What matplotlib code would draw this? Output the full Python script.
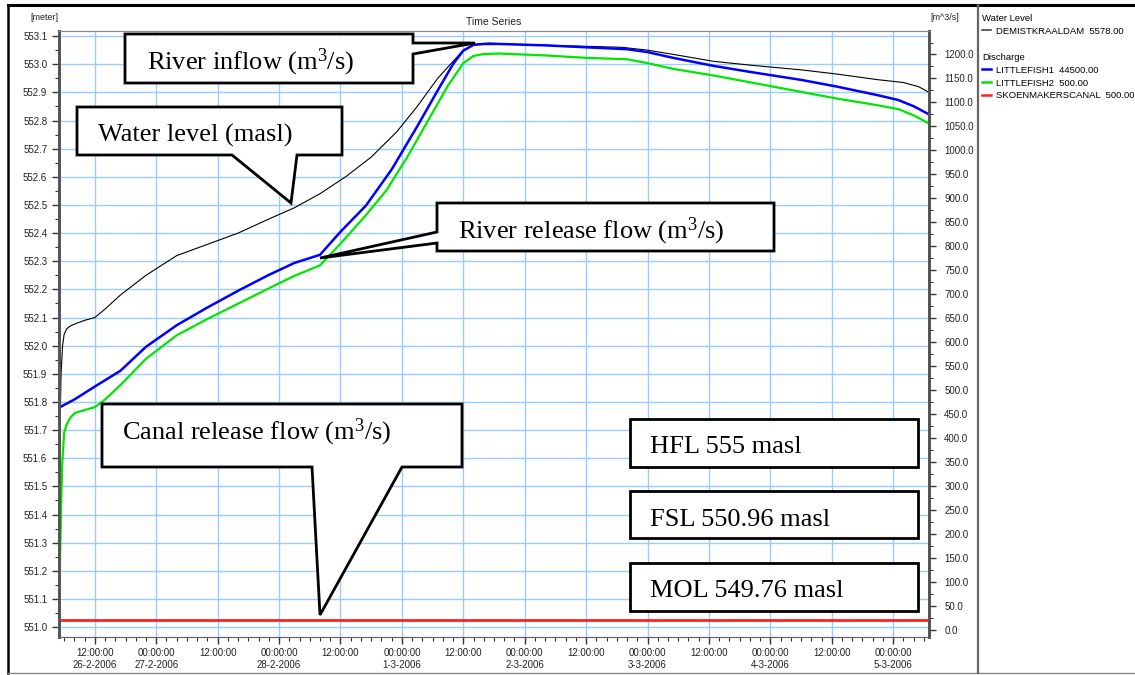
import numpy as np
import pandas as pd
import matplotlib
matplotlib.use("Agg")
import matplotlib.pyplot as plt
import matplotlib.dates as mdates
from matplotlib.patches import Polygon
from matplotlib.lines import Line2D
from matplotlib.ticker import MultipleLocator, FuncFormatter, FormatStrFormatter

plt.rcParams['font.family'] = ['Liberation Sans', 'DejaVu Sans']
plt.rcParams['mathtext.fontset'] = 'custom'
plt.rcParams['mathtext.rm'] = 'Liberation Serif'
plt.rcParams['mathtext.it'] = 'Liberation Serif:italic'

W, H = 1135, 675
start = pd.Timestamp("2006-02-26 05:00")
end = pd.Timestamp("2006-03-05 07:00")

# water level DEMISTKRAALDAM [meter], hours from start
wl_hours = [0, 0.2, 0.4, 0.7, 1.0, 1.5, 2.2, 3.5, 5, 7, 9, 12, 17, 23, 29, 35, 41, 46, 51, 56,
            61, 66, 70, 74, 77, 79, 81, 84, 90, 100, 110, 115, 120, 128, 136, 145, 152, 160,
            165, 168, 170]
wl_level = [551.45, 551.70, 551.90, 552.00, 552.04, 552.06, 552.07, 552.08, 552.09, 552.10,
            552.13, 552.18, 552.25, 552.32, 552.36, 552.40, 552.45, 552.49, 552.54, 552.60,
            552.67, 552.76, 552.85, 552.95, 553.01, 553.05, 553.07, 553.075, 553.07, 553.065,
            553.06, 553.05, 553.035, 553.01, 552.995, 552.98, 552.965, 552.945, 552.935,
            552.92, 552.90]

# discharge LITTLEFISH1 [m^3/s]
lf1_hours = [0, 3, 7, 12, 17, 23, 29, 35, 41, 46, 51, 55, 60, 65, 70, 74, 77, 79, 81, 83, 86,
             95, 103, 111, 115, 120, 128, 136, 145, 152, 160, 164, 167, 170]
lf1_q = [463, 480, 507, 540, 590, 635, 672, 707, 740, 765, 782, 830, 885, 960, 1050, 1125,
         1180, 1208, 1220, 1222, 1222, 1219, 1215, 1211, 1205, 1193, 1176, 1162, 1147, 1133,
         1115, 1105, 1092, 1075]

# discharge LITTLEFISH2 [m^3/s]
lf2_hours = [0, 0.3, 0.6, 1.0, 1.5, 2.2, 3.1, 5, 7, 9, 12, 17, 23, 29, 35, 41, 46, 51, 55, 60,
             64, 68, 72, 76, 79, 81, 83, 86, 95, 103, 111, 115, 120, 128, 136, 145, 152, 160,
             164, 167, 170]
lf2_q = [25, 200, 340, 410, 428, 442, 452, 458, 464, 480, 510, 565, 614, 648, 680, 712, 738,
         760, 805, 865, 917, 985, 1060, 1135, 1182, 1197, 1201, 1202, 1198, 1193, 1190, 1182,
         1170, 1156, 1140, 1122, 1108, 1094, 1086, 1073, 1056]

# discharge SKOENMAKERSCANAL [m^3/s]
canal_hours = [0, 170]
canal_q = [20, 20]

def to_time(hours):
    return start + pd.to_timedelta(hours, unit="h")

def px(x, y):
    return (x / W, 1 - y / H)

fig = plt.figure(figsize=(W / 100, H / 100), dpi=100)
ax = fig.add_axes([59 / W, 1 - 637 / H, 870 / W, 606 / H])
ax2 = ax.twinx()

grid_c = "#99ccff"
ax.grid(True, which="major", color=grid_c, lw=1.0)
ax.set_axisbelow(True)

l_wl, = ax.plot(to_time(wl_hours), wl_level, color="black", lw=0.8)
l_lf1, = ax2.plot(to_time(lf1_hours), lf1_q, color="#0000ff", lw=1.8)
l_lf2, = ax2.plot(to_time(lf2_hours), lf2_q, color="#00e600", lw=1.6)
l_can, = ax2.plot(to_time(canal_hours), canal_q, color="#ff2020", lw=2.0)

ax.set_xlim(start, end)
ax.set_ylim(550.965, 553.118)
ax2.set_ylim(-15.6, 1249)

ax.yaxis.set_major_locator(MultipleLocator(0.1))
ax.yaxis.set_minor_locator(MultipleLocator(0.05))
ax.yaxis.set_major_formatter(FormatStrFormatter("%.1f"))
ax2.yaxis.set_major_locator(MultipleLocator(50))
ax2.yaxis.set_minor_locator(MultipleLocator(25))
ax2.yaxis.set_major_formatter(FormatStrFormatter("%.1f"))

ax.xaxis.set_major_locator(mdates.HourLocator(byhour=[0, 12]))
ax.xaxis.set_minor_locator(mdates.HourLocator(byhour=range(0, 24, 2)))

def fmt_time(x, pos):
    d = mdates.num2date(x)
    date = f"{d.day}-{d.month}-{d.year}"
    if d.hour == 0 or pos == 0:
        return d.strftime("%H:%M:%S") + "\n" + date
    return d.strftime("%H:%M:%S")

ax.xaxis.set_major_formatter(FuncFormatter(fmt_time))

tick_c = "#333333"
for a in (ax, ax2):
    a.tick_params(which="major", length=5, width=1, colors=tick_c, labelsize=7, labelcolor="#222222")
    a.tick_params(which="minor", length=3, width=0.8, colors=tick_c)
ax.tick_params(axis="x", pad=3)
ax2.tick_params(axis="y", pad=6)

for a in (ax, ax2):
    a.spines["left"].set_color("#555555")
    a.spines["left"].set_linewidth(2)
    a.spines["right"].set_color("#555555")
    a.spines["right"].set_linewidth(2)
    a.spines["top"].set_color("#888888")
    a.spines["bottom"].set_color("#666666")

fig.text(494 / W, 1 - 22 / H, "Time Series", ha="center", va="center", fontsize=7.5, color="#222222")
fig.text(44 / W, 1 - 18 / H, "[meter]", ha="center", va="center", fontsize=6.5, color="#222222")
fig.text(945 / W, 1 - 18 / H, "[m^3/s]", ha="center", va="center", fontsize=6.5, color="#222222")

# outer frame and legend divider
fig.add_artist(Line2D([8 / W, 8 / W], [1 - 5 / H, 1 - 673 / H], color="black", lw=1.8, transform=fig.transFigure))
fig.add_artist(Line2D([8 / W, 1], [1 - 5 / H, 1 - 5 / H], color="black", lw=2.2, transform=fig.transFigure))
fig.add_artist(Line2D([8 / W, 1], [1 - 673 / H, 1 - 673 / H], color="#888888", lw=1, transform=fig.transFigure))
fig.add_artist(Line2D([978 / W, 978 / W], [1 - 5 / H, 1 - 673 / H], color="#666666", lw=1.6, transform=fig.transFigure))

# legend
leg_kw = dict(loc="upper left", frameon=False, fontsize=6.8, title_fontsize=6.8,
              handlelength=1.0, handletextpad=0.5, borderpad=0, borderaxespad=0,
              labelspacing=0.4, alignment="left")
fig.legend([Line2D([], [], color="#444444", lw=1.2)], ["DEMISTKRAALDAM  5578.00"],
           title="Water Level", bbox_to_anchor=px(982, 14), **leg_kw)
fig.legend([Line2D([], [], color="#0000ff", lw=1.8), Line2D([], [], color="#00e600", lw=1.8),
            Line2D([], [], color="#ff2020", lw=1.8)],
           ["LITTLEFISH1  44500.00", "LITTLEFISH2  500.00", "SKOENMAKERSCANAL  500.00"],
           title="Discharge", bbox_to_anchor=px(982, 53), **leg_kw)

# callout boxes
unit = "(m$^{3}$/s)"
callouts = [
    ([(125, 34), (413, 34), (413, 43), (475, 43), (413, 54), (413, 83), (125, 83)],
     "River inflow " + unit, (147, 69)),
    ([(77, 107), (342, 107), (342, 155), (297, 155), (291, 203), (232, 155), (77, 155)],
     "Water level (masl)", (98, 142)),
    ([(437, 203), (774, 203), (774, 251), (437, 251), (437, 243), (320, 258), (437, 232)],
     "River release flow " + unit, (458, 238)),
    ([(102, 404), (462, 404), (462, 467), (402, 467), (320, 615), (312, 467), (102, 467)],
     "Canal release flow " + unit, (122, 439)),
    ([(630, 419), (918, 419), (918, 467), (630, 467)], "HFL 555 masl", (650, 453)),
    ([(630, 491), (918, 491), (918, 538), (630, 538)], "FSL 550.96 masl", (650, 526)),
    ([(630, 563), (918, 563), (918, 611), (630, 611)], "MOL 549.76 masl", (650, 597)),
]
for pts, label, (tx, ty) in callouts:
    poly = Polygon([px(x, y) for x, y in pts], closed=True, facecolor="white",
                   edgecolor="black", lw=2, transform=fig.transFigure, zorder=5)
    fig.add_artist(poly)
    fig.text(*px(tx, ty), label, family="Liberation Serif", fontsize=19,
             ha="left", va="baseline", zorder=6)

fig.savefig("out.png", dpi=100)
